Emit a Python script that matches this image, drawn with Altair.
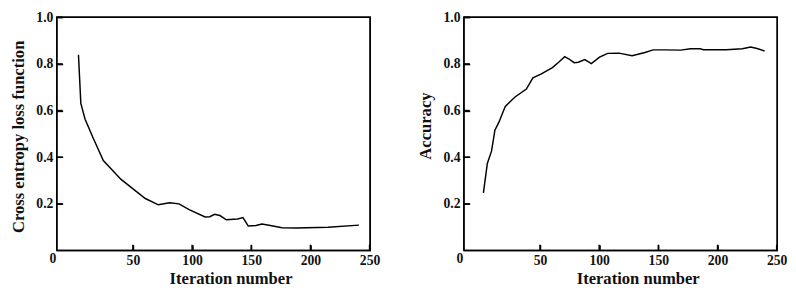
import altair as alt
import pandas as pd

# Left panel: cross entropy loss
loss_iter = [4, 6, 9.6, 16.5, 25, 40, 60.5, 71.5, 81, 89, 97.5, 111, 115, 119, 123.5, 129, 138.5, 143, 147.5, 154, 159, 165, 176, 188, 215, 241]
loss_val = [0.839, 0.631, 0.563, 0.481, 0.386, 0.305, 0.223, 0.196, 0.205, 0.200, 0.175, 0.144, 0.145, 0.155, 0.150, 0.132, 0.135, 0.141, 0.105, 0.107, 0.114, 0.108, 0.098, 0.097, 0.100, 0.109]

# Right panel: accuracy
acc_iter = [2.2, 5.5, 9.1, 11.9, 15.2, 20.7, 28.9, 38.5, 44, 50.8, 60.5, 66, 70.9, 74.2, 78.9, 82.4, 87.9, 93.4, 100.3, 107.2, 116.7, 127.8, 138.7, 145.6, 155, 168.9, 177.2, 185.4, 188, 207.3, 221, 228, 233.4, 239.8]
acc_val = [0.247, 0.373, 0.427, 0.516, 0.549, 0.618, 0.658, 0.692, 0.740, 0.756, 0.784, 0.808, 0.831, 0.822, 0.805, 0.807, 0.818, 0.801, 0.829, 0.845, 0.846, 0.835, 0.849, 0.860, 0.860, 0.859, 0.865, 0.865, 0.861, 0.861, 0.865, 0.872, 0.866, 0.855]

x_ticks = [50, 100, 150, 200, 250]
y_ticks = [0.2, 0.4, 0.6, 0.8, 1.0]

FONT = "Liberation Serif"
W, H = 321, 239
X_DOMAIN = [-14.3, 250.5]
Y_DOMAIN = [0, 1]
INK = "#111111"


def panel(iters, vals, title, title_y):
    df = pd.DataFrame({"it": iters, "v": vals})
    xsc = alt.Scale(domain=X_DOMAIN, nice=False, zero=False)
    ysc = alt.Scale(domain=Y_DOMAIN, nice=False)
    xax = alt.Axis(values=x_ticks, title="Iteration number", domain=False, grid=False,
                   offset=-6, tickSize=6, tickWidth=1.5, tickColor="black",
                   labelFont=FONT, labelFontSize=14, labelFontWeight="bold", labelColor=INK,
                   labelPadding=3, titleFont=FONT, titleFontSize=17, titleFontWeight="bold",
                   titleColor=INK, titlePadding=4, titleX=178, labelFlush=False)
    yax = alt.Axis(values=y_ticks, title=title, domain=False, grid=False,
                   offset=-6, tickSize=6, tickWidth=1.5, tickColor="black", format=".1f",
                   labelFont=FONT, labelFontSize=14, labelFontWeight="bold", labelColor=INK,
                   labelPadding=4, titleFont=FONT, titleFontSize=17, titleFontWeight="bold",
                   titleColor=INK, titlePadding=9, titleY=title_y, labelFlush=False)
    line = alt.Chart(df).mark_line(color="black", strokeWidth=1.5).encode(
        x=alt.X("it:Q", scale=xsc, axis=xax),
        y=alt.Y("v:Q", scale=ysc, axis=yax),
    )
    corners = pd.DataFrame({"o": [0, 1, 2, 3, 4],
                            "cx": [X_DOMAIN[0], X_DOMAIN[1], X_DOMAIN[1], X_DOMAIN[0], X_DOMAIN[0]],
                            "cy": [Y_DOMAIN[0], Y_DOMAIN[0], Y_DOMAIN[1], Y_DOMAIN[1], Y_DOMAIN[0]]})
    frame = alt.Chart(corners).mark_line(color="black", strokeWidth=1.5).encode(
        x=alt.X("cx:Q", scale=xsc), y=alt.Y("cy:Q", scale=ysc), order="o:Q")
    yt = alt.Chart(pd.DataFrame({"t": y_ticks})).mark_tick(
        orient="horizontal", size=6, thickness=1.5, color="black", opacity=1
    ).encode(y=alt.Y("t:Q", scale=ysc), x=alt.value(3))
    xt = alt.Chart(pd.DataFrame({"t": x_ticks})).mark_tick(
        orient="vertical", size=6, thickness=1.5, color="black", opacity=1
    ).encode(x=alt.X("t:Q", scale=xsc), y=alt.value(H - 3))
    zero = alt.Chart(pd.DataFrame({"t": ["0"]})).mark_text(
        font=FONT, fontSize=14, fontWeight="bold", color=INK, baseline="top", align="center"
    ).encode(text="t:N", x=alt.value(-4), y=alt.value(H + 2))
    return alt.layer(line, frame, yt, xt, zero).properties(width=W, height=H)


left = panel(loss_iter, loss_val, "Cross entropy loss function", 122)
right = panel(acc_iter, acc_val, "Accuracy", 111)

chart = alt.hconcat(left, right, spacing=35).properties(
    padding={"left": 0, "top": -2, "right": 0, "bottom": 0}
).configure_view(stroke="black", strokeWidth=1.5)

chart.save("out.html", embed_options={"renderer": "svg", "actions": False})
